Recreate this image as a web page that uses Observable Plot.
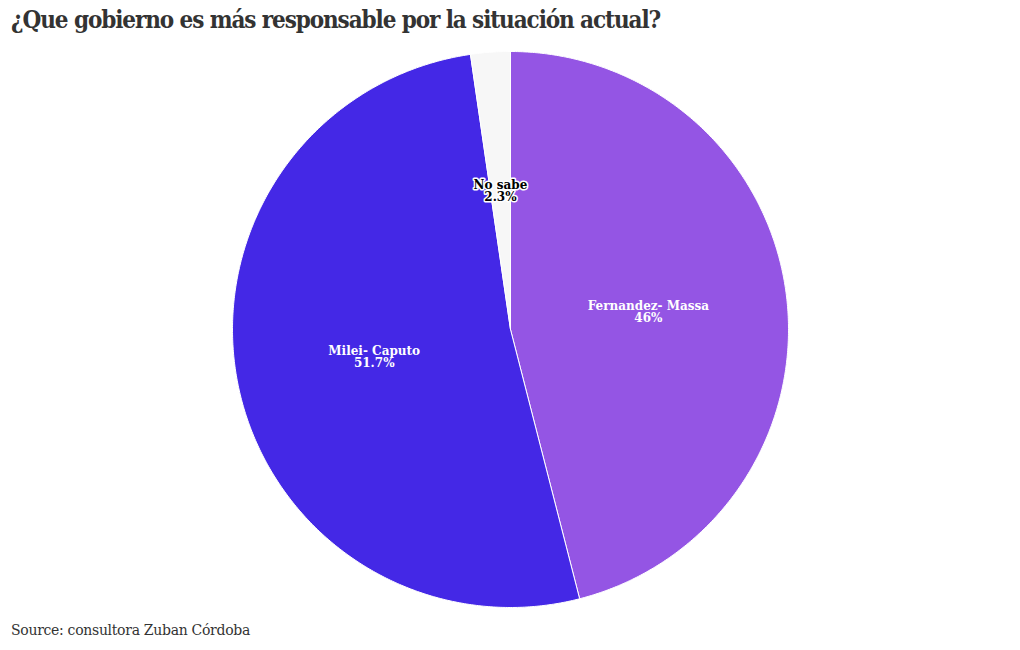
<!DOCTYPE html>
<html>
<head>
<meta charset="utf-8">
<script src="https://cdn.jsdelivr.net/npm/d3@7"></script>
<script src="https://cdn.jsdelivr.net/npm/@observablehq/plot@0.6"></script>
<style>
  body { margin: 0; background: #fff; width: 1020px; height: 650px; position: relative; overflow: hidden; }
  #title { position: absolute; left: 11px; top: 5px; font-family: "DejaVu Serif Condensed", "DejaVu Serif", serif; font-stretch: condensed; font-weight: bold; font-size: 24px; color: #333; letter-spacing: -1.1px; white-space: nowrap; }
  #chart { position: absolute; left: 0; top: 45px; }
  #source { position: absolute; left: 11px; top: 622px; font-family: "DejaVu Serif", serif; font-size: 14px; color: #333; letter-spacing: -0.3px; white-space: nowrap; }
</style>
</head>
<body>
<div id="title">¿Que gobierno es más responsable por la situación actual?</div>
<div id="chart"></div>
<div id="source">Source: consultora Zuban Córdoba</div>
<script>
const labels = ["Fernandez- Massa", "Milei- Caputo", "No sabe"];
const values = [46, 51.7, 2.3];
const valueLabels = ["46%", "51.7%", "2.3%"];
const colors = ["#9455e4", "#4428e6", "#f7f7f7"];
const textColors = ["#ffffff", "#ffffff", "#000000"];

const data = labels.map((l, i) => ({label: l, value: values[i], vlabel: valueLabels[i], text: textColors[i]}));
const arcs = d3.pie().sort(null).value(d => d.value)(data);

const pts = [];
for (const a of arcs) {
  pts.push({label: a.data.label, x: 0, y: 0});
  const n = Math.max(2, Math.ceil((a.endAngle - a.startAngle) / (Math.PI / 360)));
  for (let k = 0; k <= n; k++) {
    const t = a.startAngle + (a.endAngle - a.startAngle) * k / n;
    pts.push({label: a.data.label, x: Math.sin(t), y: Math.cos(t)});
  }
  pts.push({label: a.data.label, x: 0, y: 0});
}
const lbl = arcs.map(a => {
  const m = (a.startAngle + a.endAngle) / 2;
  return {x: 0.5 * Math.sin(m), y: 0.5 * Math.cos(m), text: a.data.label + "\n" + a.data.vlabel, color: a.data.text, dark: a.data.text === "#000000"};
});

const chart = Plot.plot({
  width: 1020,
  height: 568,
  marginTop: 6,
  marginBottom: 6,
  marginLeft: 232,
  marginRight: 232,
  x: {domain: [-1, 1], axis: null},
  y: {domain: [-1, 1], axis: null},
  color: {domain: labels, range: colors},
  style: {fontFamily: "DejaVu Serif, serif"},
  marks: [
    Plot.line(pts, {x: "x", y: "y", z: "label", fill: "label", stroke: "white", strokeWidth: 1, strokeLinejoin: "round"}),
    Plot.text(lbl.filter(d => !d.dark), {x: "x", y: "y", text: "text", fill: "color", fontSize: 12, fontWeight: "bold", lineHeight: 1}),
    Plot.text(lbl.filter(d => d.dark), {x: "x", y: "y", text: "text", fill: "color", stroke: "white", strokeWidth: 3, fontSize: 12, fontWeight: "bold", lineHeight: 1})
  ]
});
document.getElementById("chart").appendChild(chart);
</script>
</body>
</html>
